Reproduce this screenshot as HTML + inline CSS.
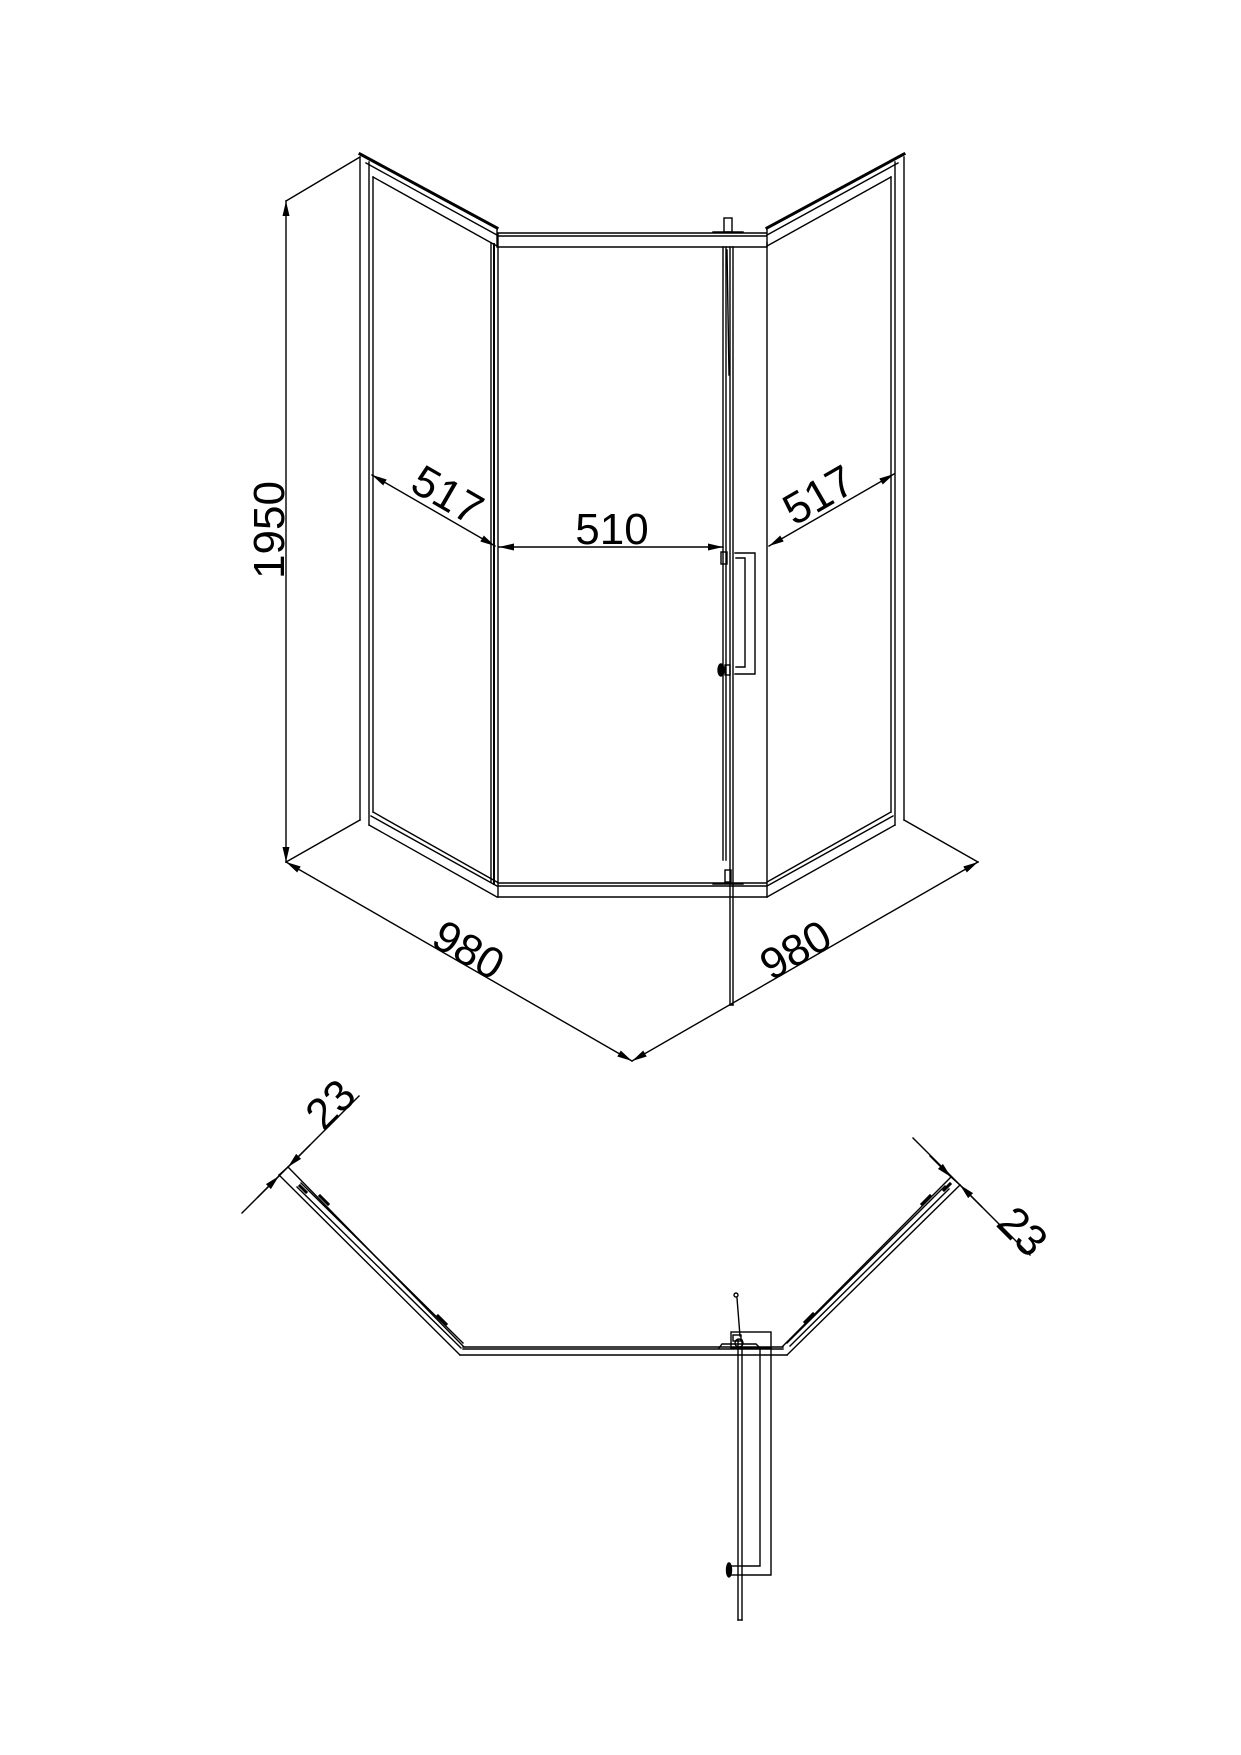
<!DOCTYPE html>
<html><head><meta charset="utf-8"><style>
html,body{margin:0;padding:0;background:#fff;}
svg{display:block;}
text{font-family:"Liberation Sans",Arial,sans-serif;fill:#000;}
</style></head><body>
<svg width="1241" height="1755" viewBox="0 0 1241 1755" xmlns="http://www.w3.org/2000/svg">
<defs>
<marker id="ar" markerWidth="16" markerHeight="10" refX="15" refY="4" orient="auto-start-reverse" markerUnits="userSpaceOnUse" viewBox="0 0 16 8">
<path d="M0,0.5 L15,4 L0,7.5 Z" fill="#000"/>
</marker>
</defs>
<g stroke="#000" stroke-width="1.4" fill="none" stroke-linecap="square">
<!-- wall geometry: left side and mirrored right side -->
<g id="side">
  <line x1="360" y1="157" x2="360" y2="820"/>
  <line x1="369" y1="162" x2="369" y2="825"/>
  <line x1="373" y1="177" x2="373" y2="812"/>
  <line x1="360" y1="154" x2="497" y2="228" stroke-width="3"/>
  <line x1="366" y1="163" x2="497" y2="235"/>
  <line x1="373" y1="177" x2="497" y2="246"/>
  <line x1="497" y1="229" x2="497" y2="247"/>
  <line x1="491" y1="243" x2="491" y2="882"/>
  <line x1="494" y1="244" x2="494" y2="884" stroke-width="2"/>
  <line x1="498" y1="234" x2="498" y2="897"/>
  <line x1="373" y1="812" x2="497" y2="882"/>
  <line x1="371" y1="816" x2="497" y2="886"/>
  <line x1="369" y1="825" x2="497" y2="897"/>
  <line x1="360" y1="820" x2="286" y2="862"/>
  <line x1="360" y1="157" x2="286" y2="201"/>
</g>
<g transform="translate(1264,0) scale(-1,1)">
  <line x1="360" y1="157" x2="360" y2="820"/>
  <line x1="369" y1="162" x2="369" y2="825"/>
  <line x1="373" y1="177" x2="373" y2="812"/>
  <line x1="360" y1="154" x2="497" y2="228" stroke-width="3"/>
  <line x1="366" y1="163" x2="497" y2="235"/>
  <line x1="373" y1="177" x2="497" y2="246"/>
  <line x1="497" y1="229" x2="497" y2="247"/>
  <line x1="497" y1="243" x2="497" y2="897"/>
  <line x1="373" y1="812" x2="497" y2="882"/>
  <line x1="371" y1="816" x2="497" y2="886"/>
  <line x1="369" y1="825" x2="497" y2="897"/>
  <line x1="360" y1="820" x2="286" y2="862"/>
</g>
<!-- center rails -->
<line x1="498" y1="233" x2="766" y2="233"/>
<line x1="498" y1="236" x2="766" y2="236"/>
<line x1="498" y1="247" x2="766" y2="247"/>
<line x1="498" y1="883" x2="766" y2="883"/>
<line x1="498" y1="886" x2="766" y2="886"/>
<line x1="498" y1="897" x2="766" y2="897"/>
<!-- door -->
<line x1="723" y1="247" x2="723" y2="860"/>
<line x1="726" y1="247" x2="726" y2="860"/>
<line x1="730" y1="247" x2="730" y2="1005"/>
<line x1="733" y1="247" x2="733" y2="1005"/>
<line x1="730" y1="1005" x2="733" y2="1005"/>
<line x1="727" y1="250" x2="729" y2="375"/>
<rect x="724" y="218" width="8" height="14"/>
<line x1="713" y1="232" x2="743" y2="232"/>
<rect x="725" y="870" width="6" height="12"/>
<line x1="713" y1="884" x2="743" y2="884"/>
<rect x="721" y="552" width="6" height="12"/>
<path d="M735,553 L755,553 L755,674 L735,674"/>
<path d="M736,558 L745,558 L745,667 L736,667"/>
<ellipse cx="721" cy="670" rx="3" ry="6" fill="#000"/>
<rect x="725" y="665" width="5" height="10"/>
<!-- dimension lines top -->
<line x1="286" y1="201" x2="286" y2="862" marker-start="url(#ar)" marker-end="url(#ar)"/>
<line x1="372" y1="475" x2="495" y2="546" marker-start="url(#ar)" marker-end="url(#ar)"/>
<line x1="499" y1="547" x2="723" y2="547" marker-start="url(#ar)" marker-end="url(#ar)"/>
<line x1="769" y1="546" x2="894" y2="474" marker-start="url(#ar)" marker-end="url(#ar)"/>
<line x1="286" y1="862" x2="632" y2="1061" marker-start="url(#ar)" marker-end="url(#ar)"/>
<line x1="978" y1="862" x2="632" y2="1061" marker-start="url(#ar)" marker-end="url(#ar)"/>
<!-- plan view -->
<line x1="279" y1="1175" x2="460" y2="1355"/>
<line x1="288" y1="1167" x2="464" y2="1347"/>
<line x1="279" y1="1175" x2="288" y2="1167"/>
<line x1="301" y1="1183" x2="463" y2="1343"/>
<line x1="297" y1="1187" x2="461" y2="1348"/>
<line x1="460" y1="1355" x2="787" y2="1355"/>
<line x1="463" y1="1347" x2="783" y2="1347"/>
<line x1="463" y1="1349" x2="783" y2="1349"/>
<line x1="787" y1="1355" x2="960" y2="1185"/>
<line x1="782" y1="1347" x2="951" y2="1177"/>
<line x1="951" y1="1177" x2="960" y2="1185"/>
<line x1="787" y1="1343" x2="945" y2="1186"/>
<line x1="790" y1="1346" x2="949" y2="1189"/>
<g stroke-width="3">
<line x1="300" y1="1186" x2="306" y2="1192"/>
<line x1="320" y1="1196" x2="328" y2="1204"/>
<line x1="438" y1="1316" x2="446" y2="1324"/>
<line x1="805" y1="1322" x2="813" y2="1314"/>
<line x1="922" y1="1204" x2="930" y2="1196"/>
<line x1="944" y1="1190" x2="950" y2="1184"/>
</g>
<!-- door plan -->
<line x1="738" y1="1340" x2="738" y2="1620"/>
<line x1="742" y1="1340" x2="742" y2="1620"/>
<line x1="738" y1="1620" x2="742" y2="1620"/>
<rect x="731" y="1332" width="40" height="16"/>
<path d="M760,1348 L760,1566 L742,1566"/>
<path d="M771,1348 L771,1575 L742,1575"/>
<path d="M719,1348 L722,1344 L756,1344 L760,1348"/>
<circle cx="739" cy="1343" r="4"/>
<rect x="733" y="1335" width="8" height="6"/>
<line x1="737" y1="1298" x2="740" y2="1336"/>
<circle cx="736" cy="1295" r="2"/>
<ellipse cx="729" cy="1570" rx="2.5" ry="7" fill="#000"/>
<line x1="731" y1="1566" x2="742" y2="1566"/>
<line x1="731" y1="1575" x2="742" y2="1575"/>
<!-- 23 dims -->
<line x1="242" y1="1213" x2="359" y2="1096"/>
<line x1="258" y1="1197" x2="279" y2="1176" marker-end="url(#ar)"/>
<line x1="310" y1="1145" x2="288" y2="1167" marker-end="url(#ar)"/>
<line x1="913" y1="1138" x2="1030" y2="1255"/>
<line x1="930" y1="1156" x2="951" y2="1177" marker-end="url(#ar)"/>
<line x1="982" y1="1207" x2="960" y2="1185" marker-end="url(#ar)"/>
</g>
<!-- labels -->
<g font-size="44">
<text x="612" y="544" text-anchor="middle">510</text>
<text transform="translate(440,508) rotate(30)" text-anchor="middle">517</text>
<text transform="translate(826,508) rotate(-30)" text-anchor="middle">517</text>
<text transform="translate(284,530) rotate(-90)" text-anchor="middle">1950</text>
<text transform="translate(461,963) rotate(30)" text-anchor="middle">980</text>
<text transform="translate(803,963) rotate(-30)" text-anchor="middle">980</text>
<text transform="translate(341,1115) rotate(-45)" text-anchor="middle">23</text>
<text transform="translate(1012,1242) rotate(45)" text-anchor="middle">23</text>
</g>
</svg>
</body></html>
